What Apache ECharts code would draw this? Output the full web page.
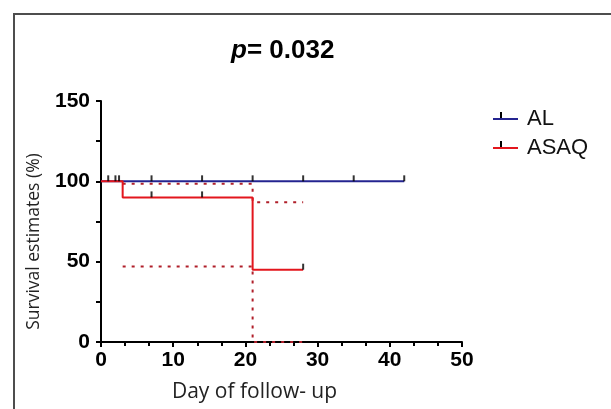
<!DOCTYPE html>
<html>
<head>
<meta charset="utf-8">
<script src="https://cdn.jsdelivr.net/npm/echarts@6/dist/echarts.min.js"></script>
<style>html,body{margin:0;padding:0;background:#fff}#c{width:611px;height:409px}</style>
</head>
<body>
<div id="c"></div>
<script>
// Kaplan-Meier data
const alTimes = [0, 42];
const alSurv = [100, 100];
const alCensorTimes = [1, 2, 2.5, 7, 14, 21, 28, 35, 42];
const asaqTimes = [0, 3, 21, 28];
const asaqSurv = [100, 90, 45, 45];
const asaqCensorTimes = [7, 14, 28];
const asaqCensorSurv = [90, 90, 45];
const ciTimes = [3, 21, 28];
const ciUpper = [98.5, 87, 87];
const ciLower = [47, 0, 0];
const xTicks = [0, 10, 20, 30, 40, 50];
const yTicks = [0, 50, 100, 150];

const zip = (a, b) => a.map((v, i) => [v, b[i]]);
const chart = echarts.init(document.getElementById('c'));
const dotted = { color: '#b01f2a', width: 2, type: [3, 6] };

chart.setOption({
  animation: false,
  backgroundColor: '#fff',
  title: {
    text: '{i|p}= 0.032',
    left: 226, top: 33,
    textStyle: {
      fontFamily: 'Liberation Sans', fontWeight: 'bold', fontSize: 26, color: '#000',
      rich: { i: { fontFamily: 'Liberation Sans', fontStyle: 'italic', fontWeight: 'bold', fontSize: 26, color: '#000' } }
    }
  },
  legend: {
    orient: 'vertical', left: 488, top: 103, itemWidth: 25, itemHeight: 2, itemGap: 7,
    icon: 'rect',
    data: ['AL', 'ASAQ'],
    textStyle: { fontFamily: 'Liberation Sans', fontSize: 22, color: '#111', lineHeight: 22, padding: [0, 0, 0, 4] }
  },
  grid: { left: 101, right: 149, top: 101, bottom: 67 },
  xAxis: {
    type: 'value', min: xTicks[0], max: xTicks[xTicks.length - 1], interval: 10,
    name: 'Day of follow- up', nameLocation: 'middle', nameGap: 40,
    nameTextStyle: { fontFamily: 'Open Sans', fontSize: 21, color: '#222', padding: [0, 54, 0, 0] },
    axisLine: { lineStyle: { color: '#000', width: 2 } },
    axisTick: { length: 5, lineStyle: { color: '#000', width: 2 } },
    minorTick: { show: true, splitNumber: 3, length: 4, lineStyle: { color: '#000', width: 2 } },
    axisLabel: { fontFamily: 'Liberation Sans', fontWeight: 'bold', fontSize: 21, color: '#000', margin: 8 },
    splitLine: { show: false }
  },
  yAxis: {
    type: 'value', min: yTicks[0], max: yTicks[yTicks.length - 1], interval: 50,
    name: 'Survival estimates (%)', nameLocation: 'middle', nameGap: 58,
    nameTextStyle: { fontFamily: 'Open Sans', fontSize: 17.5, color: '#222', padding: [0, 40, 0, 0] },
    axisLine: { show: true, lineStyle: { color: '#000', width: 2 } },
    axisTick: { show: true, length: 5, lineStyle: { color: '#000', width: 2 } },
    minorTick: { show: true, splitNumber: 2, length: 5, lineStyle: { color: '#000', width: 2 } },
    axisLabel: { fontFamily: 'Liberation Sans', fontWeight: 'bold', fontSize: 21, color: '#000', margin: 11 },
    splitLine: { show: false }
  },
  graphic: [
    { type: 'rect', shape: { x: 14, y: 14, width: 700, height: 500 }, style: { fill: 'none', stroke: '#4d4d4d', lineWidth: 2 }, z: 100 },
    { type: 'rect', shape: { x: 500, y: 112, width: 2, height: 6 }, style: { fill: '#000' }, z: 100 },
    { type: 'rect', shape: { x: 500, y: 141, width: 2, height: 6 }, style: { fill: '#000' }, z: 100 }
  ],
  series: [
    { name: 'ASAQ upper CI', type: 'line', step: 'end', data: zip(ciTimes, ciUpper), showSymbol: false, lineStyle: dotted, z: 1, silent: true },
    { name: 'ASAQ lower CI', type: 'line', step: 'end', data: zip(ciTimes, ciLower), showSymbol: false, lineStyle: dotted, z: 1, silent: true },
    { name: 'AL', type: 'line', step: 'end', data: zip(alTimes, alSurv), showSymbol: false, color: '#242490', lineStyle: { color: '#242490', width: 2 }, z: 2 },
    { name: 'ASAQ', type: 'line', step: 'end', data: zip(asaqTimes, asaqSurv), showSymbol: false, color: '#e3161d', lineStyle: { color: '#e3161d', width: 2 }, z: 3 },
    { name: 'AL censored', type: 'scatter', data: alCensorTimes.map(t => [t, 100]), symbol: 'rect', symbolSize: [2, 6], symbolOffset: [0, -3], itemStyle: { color: '#000' }, z: 4 },
    { name: 'ASAQ censored', type: 'scatter', data: zip(asaqCensorTimes, asaqCensorSurv), symbol: 'rect', symbolSize: [2, 6], symbolOffset: [0, -3], itemStyle: { color: '#000' }, z: 4 }
  ]
});
</script>
</body>
</html>
